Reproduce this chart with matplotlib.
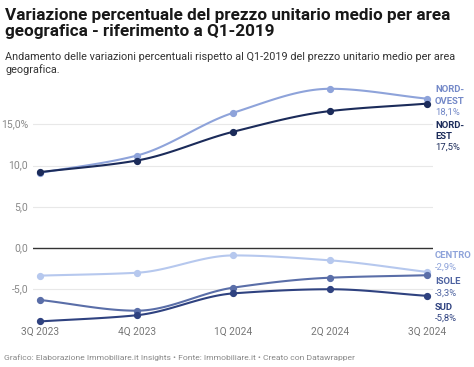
import numpy as np
import matplotlib.pyplot as plt

plt.rcParams['font.family'] = ['Roboto', 'DejaVu Sans']

# ---------------------------------------------------------------------------
# data
quarters = ['3Q 2023', '4Q 2023', '1Q 2024', '2Q 2024', '3Q 2024']
nord_ovest = [9.1, 11.2, 16.4, 19.3, 18.1]
nord_est = [9.2, 10.6, 14.1, 16.6, 17.5]
centro = [-3.35, -3.0, -0.9, -1.5, -2.9]
isole = [-6.3, -7.6, -4.8, -3.6, -3.3]
sud = [-8.9, -8.15, -5.5, -5.0, -5.8]

y_ticks = [-5, 0, 5, 10, 15]
y_tick_labels = ['-5,0', '0,0', '5,0', '10,0', '15,0%']

W, H = 474, 367


def monotone(xs, ys, n=30):
    # monotone cubic (Fritsch-Carlson) used only to draw a smooth path
    xs = np.asarray(xs, float)
    ys = np.asarray(ys, float)
    h = np.diff(xs)
    d = np.diff(ys) / h
    m = np.zeros_like(ys)
    m[0], m[-1] = d[0], d[-1]
    for i in range(1, len(ys) - 1):
        if d[i - 1] * d[i] <= 0:
            m[i] = 0
        else:
            m[i] = 3 * (h[i - 1] + h[i]) / ((2 * h[i] + h[i - 1]) / d[i - 1] + (h[i] + 2 * h[i - 1]) / d[i])
    px, py = [], []
    for i in range(len(h)):
        t = np.linspace(0, 1, n)
        h00 = 2 * t**3 - 3 * t**2 + 1
        h10 = t**3 - 2 * t**2 + t
        h01 = -2 * t**3 + 3 * t**2
        h11 = t**3 - t**2
        px.extend(xs[i] + t * h[i])
        py.extend(h00 * ys[i] + h10 * h[i] * m[i] + h01 * ys[i + 1] + h11 * h[i] * m[i + 1])
    return np.array(px), np.array(py)


def fx(px):
    return px / W


def fy(py):
    return 1 - py / H


fig = plt.figure(figsize=(4.74, 3.67), dpi=100)
fig.patch.set_facecolor('white')

# axes in pixel terms: left 33, right 433, top 85, bottom 325
ax = fig.add_axes([fx(33), fy(325), (433 - 33) / W, (325 - 85) / H])
x = np.arange(len(quarters))
ax.set_xlim(-7 / 96.75, 4 + 6 / 96.75)
ax.set_ylim(-(325 - 248) / 8.25, (248 - 85) / 8.25)

for t in y_ticks:
    if t == 0:
        ax.axhline(t, color='#333333', lw=1.0, zorder=1)
    else:
        ax.axhline(t, color='#e8e8e8', lw=0.8, zorder=0)

series = [
    (centro, '#b6c8ee'),
    (isole, '#5a6ea8'),
    (sud, '#2f4280'),
    (nord_ovest, '#8ea3da'),
    (nord_est, '#1b2b5a'),
]
for vals, col in series:
    sx, sy = monotone(x, vals)
    ax.plot(sx, sy, color=col, lw=1.5, zorder=2, solid_capstyle='round')
    ax.plot(x, vals, 'o', color=col, ms=4.2, zorder=3)

ax.set_xticks([])
ax.set_yticks([])
for s in ax.spines.values():
    s.set_visible(False)

# y tick labels
for t, lab in zip(y_ticks, y_tick_labels):
    ax.text(-7 / 96.75 - 0.05, t, lab, ha='right', va='center', fontsize=7.5,
            color='#888888', transform=ax.transData, clip_on=False)

# x tick labels
for i, q in enumerate(quarters):
    ax.text(i, -(332 - 248) / 8.25, q, ha='center', va='center', fontsize=7.3,
            color='#777777', clip_on=False)

# title & subtitle
fig.text(fx(5), fy(8), 'Variazione percentuale del prezzo unitario medio per area\n'
         'geografica - riferimento a Q1-2019', ha='left', va='top', fontsize=12.3,
         fontweight='bold', color='#181818', linespacing=1.1)
fig.text(fx(5), fy(52), 'Andamento delle variazioni percentuali rispetto al Q1-2019 del prezzo unitario medio per area\n'
         'geografica.', ha='left', va='top', fontsize=7.85, color='#333333', linespacing=1.25)

# end labels: one text per line
labels = [
    (['NORD-', 'OVEST'], '18,1%', 90, '#7489c8'),
    (['NORD-', 'EST'], '17,5%', 125, '#1b2b5a'),
    (['CENTRO'], '-2,9%', 256, '#8ea3da'),
    (['ISOLE'], '-3,3%', 282, '#4d62a0'),
    (['SUD'], '-5,8%', 307, '#2f4280'),
]
for names, val, ypx, col in labels:
    for k, nm in enumerate(names):
        fig.text(fx(435), fy(ypx + 11.3 * k), nm, ha='left', va='center', fontsize=6.8,
                 fontweight='bold', color=col)
    fig.text(fx(435), fy(ypx + 11.3 * len(names)), val, ha='left', va='center',
             fontsize=6.8, color=col)

# footer
fig.text(fx(4), fy(358), 'Grafico: Elaborazione Immobiliare.it Insights \u2022 Fonte: Immobiliare.it \u2022 Creato con Datawrapper',
         ha='left', va='center', fontsize=6.1, color='#888888')

fig.savefig('out.png', dpi=100)
